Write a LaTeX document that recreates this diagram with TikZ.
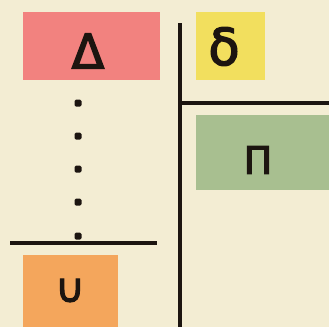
\documentclass[tikz,border=0pt]{standalone}
\usepackage{fontspec}
\setmainfont{DejaVu Sans}
\newfontfamily\glyphfont[FakeBold=3]{DejaVu Sans}
\definecolor{bgc}{HTML}{F3EDD3}
\definecolor{redc}{HTML}{F2827F}
\definecolor{yelc}{HTML}{F2DF5E}
\definecolor{grnc}{HTML}{A8BF90}
\definecolor{orgc}{HTML}{F4A65C}
\definecolor{inkc}{HTML}{1C1510}
\begin{document}
\begin{tikzpicture}[x=1bp,y=-1bp,
  box/.style={inner sep=0pt, outer sep=0pt, minimum width=#1},
  glyph/.style={inner sep=0pt, outer sep=0pt, text=inkc, font=\glyphfont\fontsize{#1}{#1}\selectfont},
  rule/.style={draw=inkc, line width=3.5bp},
  dotm/.style={rectangle, fill=inkc, inner sep=0pt, minimum size=7bp, rounded corners=1.5bp}]
\fill[bgc] (0,0) rectangle (329,327);
\useasboundingbox (0,0) rectangle (329,327);
\node[box=137bp, minimum height=68bp, fill=redc] (D) at (91.5,46) {};
\node[box=69bp, minimum height=68bp, fill=yelc] (d) at (230.5,46) {};
\node[box=133bp, minimum height=75bp, fill=grnc] (P) at (262.5,152.5) {};
\node[box=95bp, minimum height=72bp, fill=orgc] (U) at (70.5,291) {};
\node[glyph=48] (Dt) at (88,51) {Δ};
\node[glyph=51] (dt) at (224,46.5) {δ};
\node[glyph=38] (Pt) at (258,160) {Π};
\node[glyph=40] (Ut) at (70,290.5) {∪};
\coordinate (vt) at (180,23);
\coordinate (vb) at (180,327);
\coordinate (hl) at (180,103);
\coordinate (hr) at (329,103);
\coordinate (ll) at (10,243);
\coordinate (lr) at (157,243);
\draw[rule] (vt) -- (vb);
\draw[rule] (hl) -- (hr);
\draw[rule] (ll) -- (lr);
\foreach \i/\yy in {1/103,2/136,3/169,4/202,5/236}{
  \node[dotm] (dot\i) at (78,\yy) {};
}
\end{tikzpicture}
\end{document}
